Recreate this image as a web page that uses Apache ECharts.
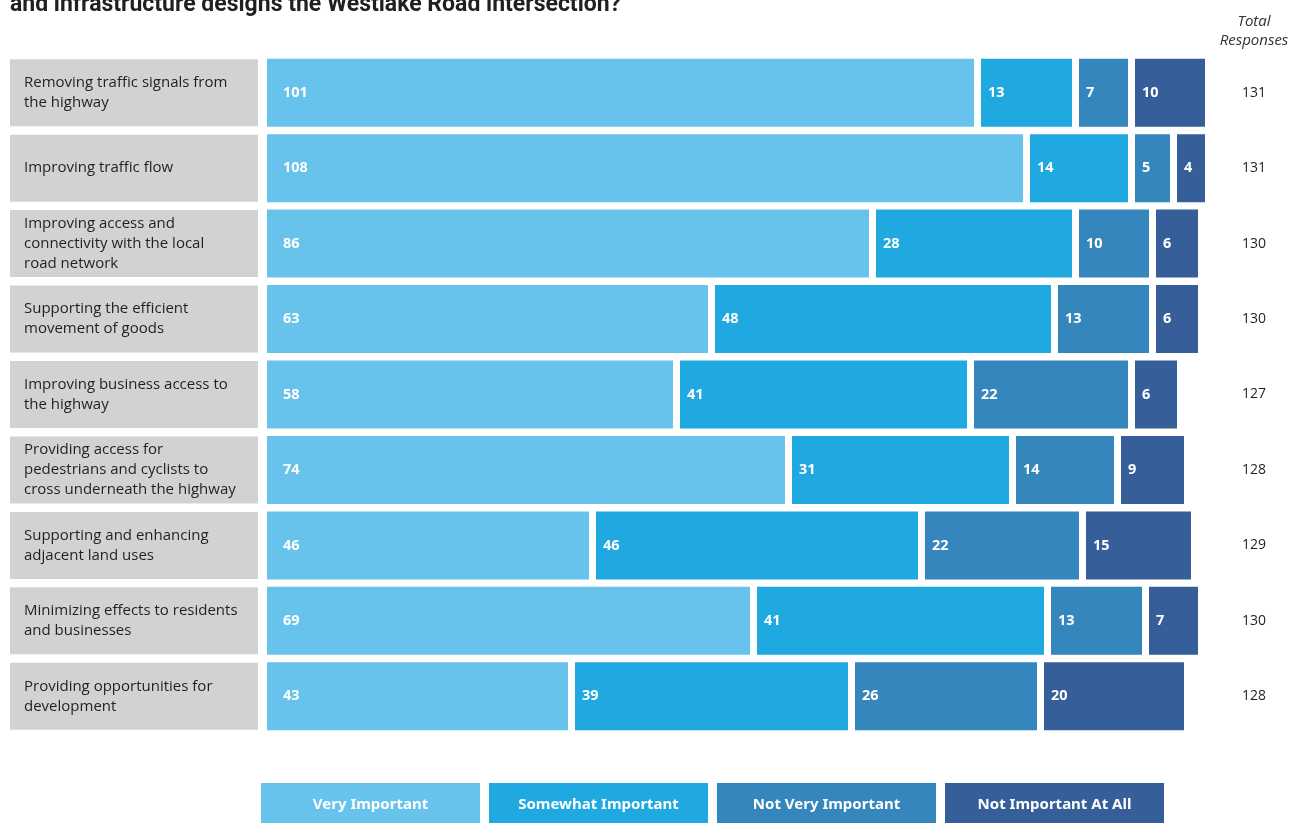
<!DOCTYPE html>
<html>
<head>
<meta charset="utf-8">
<script src="https://cdn.jsdelivr.net/npm/echarts@6/dist/echarts.min.js"></script>
<style>
  html, body { margin: 0; padding: 0; background: #fff; }
  #chart { width: 1299px; height: 823px; }
</style>
</head>
<body>
<div id="chart"></div>
<script>
// categories, top to bottom
var categories = [
  "Removing traffic signals from\nthe highway",
  "Improving traffic flow",
  "Improving access and\nconnectivity with the local\nroad network",
  "Supporting the efficient\nmovement of goods",
  "Improving business access to\nthe highway",
  "Providing access for\npedestrians and cyclists to\ncross underneath the highway",
  "Supporting and enhancing\nadjacent land uses",
  "Minimizing effects to residents\nand businesses",
  "Providing opportunities for\ndevelopment"
];
var veryImportant = [101, 108, 86, 63, 58, 74, 46, 69, 43];
var somewhatImportant = [13, 14, 28, 48, 41, 31, 46, 41, 39];
var notVeryImportant = [7, 5, 10, 13, 22, 14, 22, 13, 26];
var notImportantAtAll = [10, 4, 6, 6, 6, 9, 15, 7, 20];
var totals = [131, 131, 130, 130, 127, 128, 129, 130, 128];

var names = ["Very Important", "Somewhat Important", "Not Very Important", "Not Important At All"];
var colors = ["#67c3eb", "#1fa9e0", "#3586bd", "#365f99"];
var values = [veryImportant, somewhatImportant, notVeryImportant, notImportantAtAll];

var chart = echarts.init(document.getElementById("chart"));

var series = [];
values.forEach(function (arr, i) {
  if (i > 0) {
    // white spacer between segments
    series.push({
      name: "gap" + i,
      type: "bar",
      stack: "all",
      silent: true,
      barWidth: 68,
      itemStyle: { color: "rgba(0,0,0,0)" },
      data: categories.map(function () { return 1; })
    });
  }
  series.push({
    name: names[i],
    type: "bar",
    stack: "all",
    barWidth: 68,
    itemStyle: { color: colors[i] },
    label: {
      show: true,
      position: "insideLeft",
      distance: i === 0 ? 16 : 7,
      color: "#fff",
      fontFamily: "Noto Sans",
      fontWeight: "bold",
      fontSize: 14.5
    },
    data: arr
  });
});

var legendRich = {};
colors.forEach(function (c, i) {
  legendRich["c" + i] = {
    backgroundColor: c,
    width: 219,
    height: 40,
    lineHeight: 40,
    align: "center",
    color: "#fff",
    fontFamily: "Noto Sans",
    fontWeight: "bold",
    fontSize: 15,
    padding: [2, 0, 0, 0]
  };
});

// label box 67px tall, 20px per text line; spacers centre the text
var boxH = 67, lineH = 20;
var labelRich = {
  t: { align: "left", color: "#231f20", fontFamily: "Open Sans", fontSize: 15, lineHeight: lineH }
};
[1, 2, 3].forEach(function (n) {
  labelRich["s" + n] = { fontSize: 1, lineHeight: (boxH - n * lineH) / 2 };
});

chart.setOption({
  animation: false,
  title: [
    {
      text: "and infrastructure designs the Westlake Road intersection?",
      left: 5,
      top: -11,
      textStyle: {
        fontFamily: "Roboto",
        fontWeight: "bold",
        fontSize: 23,
        color: "#231f20"
      }
    },
    {
      text: "Total\nResponses",
      left: 1249,
      top: 7,
      textAlign: "center",
      textStyle: {
        fontFamily: "Open Sans",
        fontStyle: "italic",
        fontWeight: "normal",
        fontSize: 15,
        lineHeight: 19,
        color: "#333"
      }
    }
  ],
  legend: {
    left: 256,
    top: 783,
    padding: 0,
    itemGap: 4,
    itemWidth: 0,
    itemHeight: 0,
    icon: "rect",
    selectedMode: false,
    data: names,
    formatter: function (name) {
      return "{c" + names.indexOf(name) + "|" + name + "}";
    },
    textStyle: { rich: legendRich }
  },
  grid: { left: 267, right: 52, top: 55, height: 679, containLabel: false },
  xAxis: {
    type: "value",
    min: 0,
    max: 140,
    show: false
  },
  yAxis: [
    {
      type: "category",
      inverse: true,
      data: categories,
      axisLine: { show: false },
      axisTick: { show: false },
      axisLabel: {
        margin: 9,
        align: "right",
        width: 234,
        height: boxH,
        padding: [0, 0, 0, 14],
        backgroundColor: "#d1d2d4",
        verticalAlign: "middle",
        formatter: function (v) {
          var lines = v.split("\n");
          var sp = "{s" + lines.length + "| }";
          return sp + "\n" + lines.map(function (s) { return "{t|" + s + "}"; }).join("\n") + "\n" + sp;
        },
        rich: labelRich
      }
    },
    {
      type: "category",
      inverse: true,
      position: "right",
      data: categories,
      axisLine: { show: false },
      axisTick: { show: false },
      axisLabel: {
        margin: 7,
        align: "center",
        color: "#231f20",
        fontFamily: "Open Sans",
        fontSize: 14,
        formatter: function (v, idx) { return String(totals[idx]); }
      }
    }
  ],
  series: series
});
</script>
</body>
</html>
